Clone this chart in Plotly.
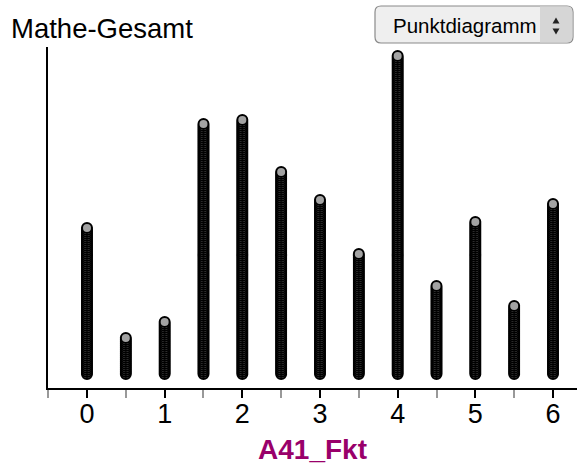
import plotly.graph_objects as go

# Data: A41_Fkt values and number of cases at each value
categories = [0, 0.5, 1, 1.5, 2, 2.5, 3, 3.5, 4, 4.5, 5, 5.5, 6]
counts = [74, 19, 27, 126, 128, 102, 88, 61, 160, 45, 77, 35, 86]
tick_vals = [0, 1, 2, 3, 4, 5, 6]
tick_text = ["0", "1", "2", "3", "4", "5", "6"]
menu_label = "Punktdiagramm"

xs, ys = [], []
for c, n in zip(categories, counts):
    for i in range(n):
        xs.append(c)
        ys.append(i)

W, H = 577, 465
ML, MR, MT, MB = 48, 0, 47, 77
PW, PH = W - ML - MR, H - MT - MB


def px(x):
    return (x - ML) / PW


def py(y):
    return (H - MB - y) / PH


def rounded_rect(x0, y0, x1, y1, r):
    return (f"M {px(x0 + r)},{py(y0)} L {px(x1 - r)},{py(y0)} "
            f"Q {px(x1)},{py(y0)} {px(x1)},{py(y0 + r)} "
            f"L {px(x1)},{py(y1 - r)} Q {px(x1)},{py(y1)} {px(x1 - r)},{py(y1)} "
            f"L {px(x0 + r)},{py(y1)} Q {px(x0)},{py(y1)} {px(x0)},{py(y1 - r)} "
            f"L {px(x0)},{py(y0 + r)} Q {px(x0)},{py(y0)} {px(x0 + r)},{py(y0)} Z")


def right_part(x0, y0, x1, y1, r):
    return (f"M {px(x0)},{py(y0)} L {px(x1 - r)},{py(y0)} "
            f"Q {px(x1)},{py(y0)} {px(x1)},{py(y0 + r)} "
            f"L {px(x1)},{py(y1 - r)} Q {px(x1)},{py(y1)} {px(x1 - r)},{py(y1)} "
            f"L {px(x0)},{py(y1)} Z")


def tri(points):
    s = " L ".join(f"{px(a)},{py(b)}" for a, b in points)
    return f"M {s} Z"


fig = go.Figure()
fig.add_trace(go.Scatter(
    x=xs, y=ys, mode="markers",
    marker=dict(size=10, color="#a3a3a3", line=dict(color="#000000", width=2)),
    hoverinfo="skip", showlegend=False,
))

font_family = "Liberation Sans, Arial, sans-serif"

shapes = [
    dict(type="path", xref="paper", yref="paper", path=rounded_rect(375, 6, 573, 43, 6),
         fillcolor="#efefef", line=dict(color="#8a8a8a", width=1.2)),
    dict(type="path", xref="paper", yref="paper", path=right_part(540, 6.6, 572.4, 42.4, 5.5),
         fillcolor="#d6d6d6", line=dict(width=0)),
    dict(type="path", xref="paper", yref="paper",
         path=tri([(552.5, 23.5), (559.5, 23.5), (556, 17.5)]),
         fillcolor="#222222", line=dict(width=0)),
    dict(type="path", xref="paper", yref="paper",
         path=tri([(552.5, 28.5), (559.5, 28.5), (556, 34.5)]),
         fillcolor="#222222", line=dict(width=0)),
]

fig.update_layout(
    width=W, height=H,
    margin=dict(l=ML, r=MR, t=MT, b=MB, autoexpand=False),
    paper_bgcolor="white", plot_bgcolor="white",
    font=dict(family=font_family, size=27, color="black"),
    xaxis=dict(
        range=[-0.502, 6.309],
        tickmode="array", tickvals=tick_vals, ticktext=tick_text,
        ticks="outside", ticklen=8, tickwidth=1.5, tickcolor="black",
        minor=dict(dtick=0.5, tick0=-0.5, ticks="outside", ticklen=8,
                   tickwidth=1.5, tickcolor="#999999"),
        showline=True, linecolor="black", linewidth=1.5,
        showgrid=False, zeroline=False,
        tickfont=dict(size=27, family=font_family),
        title=dict(text="<b>A41_Fkt</b>", font=dict(size=28, color="#99006a", family=font_family),
                   standoff=6),
    ),
    yaxis=dict(
        range=[-7, 163.5],
        showline=True, linecolor="black", linewidth=1.5,
        showticklabels=False, ticks="", showgrid=False, zeroline=False,
    ),
    shapes=shapes,
    annotations=[
        dict(text="Mathe-Gesamt", xref="paper", yref="paper",
             x=px(9), y=py(28), xanchor="left", yanchor="middle",
             showarrow=False, font=dict(size=27.5, family=font_family, color="black")),
        dict(text=menu_label, xref="paper", yref="paper",
             x=px(391), y=py(25), xanchor="left", yanchor="middle",
             showarrow=False, font=dict(size=20.5, family=font_family, color="black")),
    ],
)

try:
    fig.update_xaxes(ticklabelstandoff=-7)
    fig.update_xaxes(title_standoff=12)
except Exception:
    pass

fig.write_html("out.html", config={"displayModeBar": False},
               post_script="document.body.style.margin='0';document.body.style.overflow='hidden';")
